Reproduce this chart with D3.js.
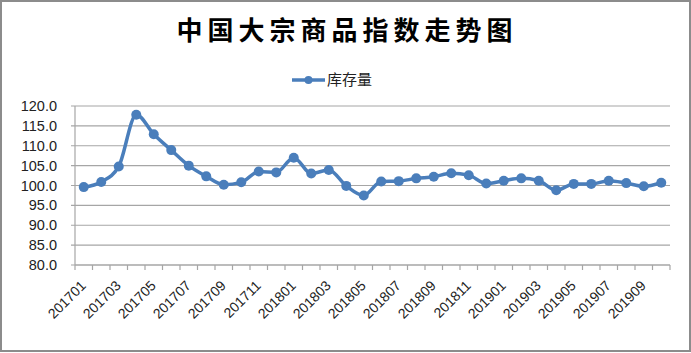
<!DOCTYPE html>
<html><head><meta charset="utf-8">
<script src="https://cdn.jsdelivr.net/npm/d3@7"></script>
<style>body{margin:0;background:#fff}svg{display:block}</style>
</head><body>
<script>
const titleText = "中国大宗商品指数走势图";
const seriesName = "库存量";
const categories = ["201701","201702","201703","201704","201705","201706","201707","201708","201709","201710","201711","201712",
"201801","201802","201803","201804","201805","201806","201807","201808","201809","201810","201811","201812",
"201901","201902","201903","201904","201905","201906","201907","201908","201909","201910"];
const values = [99.6,100.9,104.8,117.8,112.9,108.9,105.0,102.3,100.2,100.8,103.5,103.3,
107.0,103.0,103.9,99.9,97.5,101.0,101.1,101.8,102.2,103.1,102.6,100.5,
101.2,101.8,101.2,98.8,100.4,100.4,101.2,100.6,99.8,100.7];
const yTicks = [80,85,90,95,100,105,110,115,120];

const W=691,H=353;
const svg=d3.select("body").append("svg").attr("width",W).attr("height",H);
svg.append("rect").attr("x",1).attr("y",1).attr("width",W-2).attr("height",H-3)
  .attr("fill","#fff").attr("stroke","#8c8c8c").attr("stroke-width",2);

const m={l:75,r:670,t:106,b:265};
const x=d3.scaleBand().domain(categories).range([m.l,m.r]);
const y=d3.scaleLinear().domain([80,120]).range([m.b,m.t]);
const font="Liberation Sans, Arial, sans-serif";

// gridlines
svg.append("g").selectAll("line").data(yTicks).join("line")
  .attr("x1",m.l-4).attr("x2",m.r).attr("y1",d=>y(d)).attr("y2",d=>y(d))
  .attr("stroke","#a6a6a6").attr("stroke-width",1.2);

// y axis labels
svg.append("g").selectAll("text").data(yTicks).join("text")
  .attr("x",m.l-18).attr("y",d=>y(d)).attr("dy","0.35em").attr("text-anchor","end")
  .attr("font-family",font).attr("font-size",14.5).attr("fill","#222")
  .text(d=>d.toFixed(1));

// y axis line
svg.append("line").attr("x1",m.l).attr("x2",m.l).attr("y1",m.t).attr("y2",m.b)
  .attr("stroke","#a6a6a6").attr("stroke-width",1.2);

// x axis
const xa=svg.append("g").attr("transform",`translate(0,${m.b})`);
xa.append("line").attr("x1",m.l).attr("x2",m.r).attr("stroke","#a6a6a6").attr("stroke-width",1.2);
const tickPos=categories.map(c=>x(c)).concat([m.r]);
xa.selectAll("line.t").data(tickPos).join("line").attr("class","t")
  .attr("x1",d=>d).attr("x2",d=>d).attr("y1",0).attr("y2",5)
  .attr("stroke","#a6a6a6").attr("stroke-width",1.2);
xa.selectAll("text").data(categories.filter((c,i)=>i%2===0)).join("text")
  .attr("transform",d=>`translate(${x(d)+x.bandwidth()/2+3},21.5) rotate(-45)`)
  .attr("text-anchor","end")
  .attr("font-family",font).attr("font-size",14).attr("fill","#222")
  .text(d=>d);

// line
const cx=(d,i)=>x(categories[i])+x.bandwidth()/2;
const line=d3.line().x((d,i)=>cx(d,i)).y(d=>y(d)).curve(d3.curveMonotoneX);
svg.append("path").datum(values).attr("d",line).attr("fill","none")
  .attr("stroke","#4a7ebb").attr("stroke-width",3.5);
svg.append("g").selectAll("circle").data(values).join("circle")
  .attr("cx",(d,i)=>cx(d,i)).attr("cy",d=>y(d)).attr("r",5).attr("fill","#4a7ebb");

// title
svg.append("text").attr("x",347).attr("y",31).attr("text-anchor","middle").attr("dy","0.35em")
  .attr("font-family","Noto Sans CJK SC, sans-serif").attr("font-weight",700).attr("font-size",26)
  .attr("letter-spacing",5).attr("fill","#000").text(titleText);

// legend
svg.append("line").attr("x1",292).attr("x2",325).attr("y1",80).attr("y2",80)
  .attr("stroke","#4a7ebb").attr("stroke-width",3.5);
svg.append("circle").attr("cx",308.5).attr("cy",80).attr("r",4).attr("fill","#4a7ebb");
svg.append("text").attr("x",327).attr("y",80).attr("dy","0.35em")
  .attr("font-family","Noto Sans CJK SC, sans-serif").attr("font-size",15).attr("fill","#222")
  .text(seriesName);
</script>
</body></html>
